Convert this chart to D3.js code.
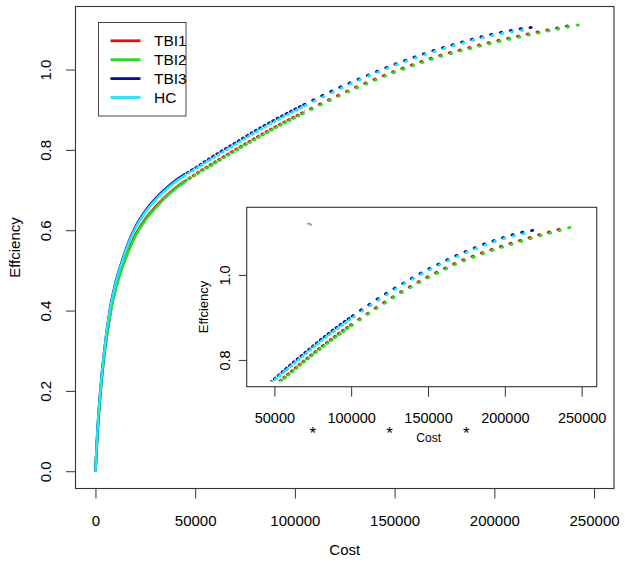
<!DOCTYPE html>
<html>
<head>
<meta charset="utf-8">
<script src="https://cdn.jsdelivr.net/npm/d3@7"></script>
<style>
  body { margin: 0; background: #fff; }
  text { font-family: "Liberation Sans", Arial, sans-serif; fill: #000; }
</style>
</head>
<body>
<div id="chart"></div>
<script>
// series names and colours
var seriesNames = ["TBI1", "TBI2", "TBI3", "HC"];
var seriesColors = ["#e01010", "#22dd22", "#0c0c9c", "#22e6f0"];

// cost / efficiency, one pair of arrays per series
var costTBI1 = [0, 500, 1000, 2000, 3000, 4500, 6000, 8000, 10000, 13000, 16000, 20000, 25000, 30000, 40000, 50000,
  60000, 70000, 80000, 90000, 100000, 110000, 120000, 130000, 140000, 150000, 160000, 170000, 180000, 190000,
  200000, 210000, 220000, 230000, 240000];
var effTBI1 = [0, 0.047, 0.093, 0.163, 0.223, 0.293, 0.348, 0.408, 0.453, 0.503, 0.543, 0.588, 0.628, 0.658, 0.705, 0.739,
  0.770, 0.800, 0.829, 0.857, 0.883, 0.908, 0.932, 0.955, 0.976, 0.996, 1.014, 1.031, 1.045, 1.058,
  1.070, 1.081, 1.092, 1.102, 1.112];

var costTBI2 = [0, 500, 1000, 2000, 3000, 4500, 6000, 8000, 10000, 13000, 16000, 20000, 25000, 30000, 40000, 50000,
  60000, 70000, 80000, 90000, 100000, 110000, 120000, 130000, 140000, 150000, 160000, 170000, 180000, 190000,
  200000, 210000, 220000, 230000, 240000, 246000];
var effTBI2 = [0, 0.045, 0.09, 0.16, 0.22, 0.29, 0.345, 0.405, 0.45, 0.50, 0.54, 0.585, 0.625, 0.655, 0.703, 0.737,
  0.767, 0.797, 0.826, 0.854, 0.880, 0.905, 0.929, 0.952, 0.973, 0.993, 1.011, 1.028, 1.042, 1.055,
  1.067, 1.078, 1.089, 1.099, 1.109, 1.116];

var costTBI3 = [0, 500, 1000, 2000, 3000, 4500, 6000, 8000, 10000, 13000, 16000, 20000, 25000, 30000, 40000, 50000,
  60000, 70000, 80000, 90000, 100000, 110000, 120000, 130000, 140000, 150000, 160000, 170000, 180000, 190000,
  200000, 210000, 222000];
var effTBI3 = [0, 0.05, 0.10, 0.172, 0.232, 0.302, 0.362, 0.423, 0.468, 0.518, 0.563, 0.608, 0.648, 0.678, 0.723, 0.755,
  0.787, 0.817, 0.847, 0.875, 0.901, 0.926, 0.950, 0.972, 0.993, 1.013, 1.031, 1.048, 1.063, 1.077,
  1.089, 1.099, 1.107];

var costHC = [0, 500, 1000, 2000, 3000, 4500, 6000, 8000, 10000, 13000, 16000, 20000, 25000, 30000, 40000, 50000,
  60000, 70000, 80000, 90000, 100000, 110000, 120000, 130000, 140000, 150000, 160000, 170000, 180000, 190000,
  200000, 210000, 218000];
var effHC = [0, 0.05, 0.10, 0.17, 0.23, 0.30, 0.36, 0.42, 0.465, 0.515, 0.56, 0.605, 0.645, 0.675, 0.72, 0.752,
  0.783, 0.813, 0.843, 0.871, 0.897, 0.922, 0.946, 0.969, 0.990, 1.010, 1.028, 1.045, 1.060, 1.074,
  1.086, 1.095, 1.100];

// axis ticks
var xTicks = [0, 50000, 100000, 150000, 200000, 250000];
var yTicks = [0, 0.2, 0.4, 0.6, 0.8, 1.0];
var insetXTicks = [50000, 100000, 150000, 200000, 250000];
var insetYTicks = [0.8, 1.0];
var insetStars = [75000, 125000, 175000];

var costs = [costTBI1, costTBI2, costTBI3, costHC];
var effs = [effTBI1, effTBI2, effTBI3, effHC];
var series = seriesNames.map(function(name, i) {
  return {
    name: name,
    color: seriesColors[i],
    values: costs[i].map(function(c, j) { return {cost: c, eff: effs[i][j]}; })
  };
});

var W = 625, H = 564;
var margin = {top: 6.5, right: 11, bottom: 75.5, left: 75.5},
    width = W - margin.left - margin.right,
    height = H - margin.top - margin.bottom;

var svg = d3.select("#chart")
  .append("svg")
    .attr("width", W)
    .attr("height", H);

var defs = svg.append("defs");

var g = svg.append("g")
    .attr("transform", "translate(" + margin.left + "," + margin.top + ")");

var x = d3.scaleLinear().domain([-10000, 260000]).range([0, width]);
var y = d3.scaleLinear().domain([-0.043, 1.157]).range([height, 0]);

// X axis
var xAxis = g.append("g")
    .attr("transform", "translate(0," + height + ")")
    .call(d3.axisBottom(x).tickValues(xTicks).tickSize(10).tickFormat(d3.format("d")));
xAxis.select(".domain").remove();
xAxis.selectAll("line").attr("stroke", "#333");
xAxis.selectAll("text")
    .attr("y", 37.5).attr("dy", 0)
    .style("font-size", "15px")
    .style("font-family", "Liberation Sans, Arial, sans-serif");

// Y axis, labels turned like R's
var yAxis = g.append("g")
    .call(d3.axisLeft(y).tickValues(yTicks).tickSize(9.5).tickFormat(d3.format(".1f")));
yAxis.select(".domain").remove();
yAxis.selectAll("line").attr("stroke", "#333");
yAxis.selectAll("text")
    .attr("x", 0).attr("dy", 0)
    .attr("text-anchor", "middle")
    .attr("transform", "translate(-24.5,0) rotate(-90)")
    .style("font-size", "15px")
    .style("font-family", "Liberation Sans, Arial, sans-serif");

g.append("text")
    .attr("text-anchor", "middle")
    .attr("x", width / 2)
    .attr("y", height + 66)
    .style("font-size", "15px")
    .text("Cost");

g.append("text")
    .attr("text-anchor", "middle")
    .attr("transform", "translate(" + (-55.5) + "," + (height / 2) + ") rotate(-90)")
    .style("font-size", "15px")
    .text("Effciency");

// curves
var line = d3.line()
    .x(function(d) { return x(d.cost); })
    .y(function(d) { return y(d.eff); })
    .curve(d3.curveMonotoneX);

// clip regions: solid near origin, denser dots in the middle
function clipBand(id, xs, x0, x1, h) {
  defs.append("clipPath").attr("id", id)
    .append("rect")
      .attr("x", xs(x0)).attr("y", -20)
      .attr("width", xs(x1) - xs(x0)).attr("height", h + 40);
}
clipBand("lowPart", x, -10000, 45000, height);
clipBand("midPart", x, 45000, 105000, height);
clipBand("highPart", x, 45000, 260000, height);

function drawSeries(parent, lineGen, clipLow, clipMid, clipHigh) {
  if (clipLow) {
    parent.append("g").attr("clip-path", "url(#" + clipLow + ")")
      .selectAll("path")
      .data(series)
      .enter()
      .append("path")
        .attr("d", function(d) { return lineGen(d.values); })
        .attr("fill", "none")
        .attr("stroke", function(d) { return d.color; })
        .attr("stroke-width", 2.6);
  }
  [0, 5].forEach(function(off) {
    parent.append("g").attr("clip-path", "url(#" + (off ? clipMid : clipHigh) + ")")
      .selectAll("path")
      .data(series)
      .enter()
      .append("path")
        .attr("d", function(d) { return lineGen(d.values); })
        .attr("fill", "none")
        .attr("stroke", function(d) { return d.color; })
        .attr("stroke-width", 2.8)
        .attr("stroke-linecap", "round")
        .attr("stroke-dasharray", "1.3,8.7")
        .attr("stroke-dashoffset", off);
  });
}
drawSeries(g, line, "lowPart", "midPart", "highPart");

// box
g.append("rect")
    .attr("width", width)
    .attr("height", height)
    .attr("fill", "none")
    .attr("stroke", "#333")
    .attr("stroke-width", 1.1);

// legend
var legend = g.append("g").attr("transform", "translate(23,16)");
legend.append("rect")
    .attr("width", 87.5).attr("height", 93.5)
    .attr("fill", "#fff").attr("stroke", "#444").attr("stroke-width", 1);
var item = legend.selectAll(".item")
  .data(series)
  .enter()
  .append("g")
    .attr("transform", function(d, i) { return "translate(0," + (18.3 + i * 18.9) + ")"; });
item.append("line")
    .attr("x1", 12).attr("x2", 42)
    .attr("stroke", function(d) { return d.color; })
    .attr("stroke-width", 2.8);
item.append("text")
    .attr("x", 55.5).attr("y", 0)
    .attr("dy", "0.36em")
    .style("font-size", "15.5px")
    .text(function(d) { return d.name; });

// inset
var inset = {left: 246.7, top: 207.3, width: 350, height: 179.4};
var ig = svg.append("g")
    .attr("transform", "translate(" + inset.left + "," + inset.top + ")");

var ix = d3.scaleLinear().domain([32000, 259800]).range([0, inset.width]);
var iy = d3.scaleLinear().domain([0.737, 1.159]).range([inset.height, 0]);

ig.append("rect")
    .attr("width", inset.width).attr("height", inset.height)
    .attr("fill", "#fff");

var iline = d3.line()
    .x(function(d) { return ix(d.cost); })
    .y(function(d) { return iy(d.eff); })
    .curve(d3.curveMonotoneX);

// inset curves only above efficiency 0.75
function insetClip(id, c0, c1) {
  defs.append("clipPath").attr("id", id)
    .append("rect")
      .attr("x", ix(c0)).attr("y", 0)
      .attr("width", ix(c1) - ix(c0)).attr("height", iy(0.75));
}
insetClip("insetMid", 32000, 100000);
insetClip("insetAll", 32000, 259800);
drawSeries(ig, iline, null, "insetMid", "insetAll");

// small stray mark in the inset
ig.append("path")
    .attr("d", "M" + (ix(72500) - 2) + "," + iy(1.12) + "h4v2")
    .attr("fill", "none")
    .attr("stroke", "#333")
    .attr("stroke-width", 0.8);

ig.append("rect")
    .attr("width", inset.width).attr("height", inset.height)
    .attr("fill", "none")
    .attr("stroke", "#333")
    .attr("stroke-width", 1.1);

var ixAxis = ig.append("g")
    .attr("transform", "translate(0," + inset.height + ")")
    .call(d3.axisBottom(ix).tickValues(insetXTicks).tickSize(10).tickFormat(d3.format("d")));
ixAxis.select(".domain").remove();
ixAxis.selectAll("line").attr("stroke", "#333");
ixAxis.selectAll("text")
    .attr("y", 36.6).attr("dy", 0)
    .style("font-size", "14.5px")
    .style("font-family", "Liberation Sans, Arial, sans-serif");

var iyAxis = ig.append("g")
    .call(d3.axisLeft(iy).tickValues(insetYTicks).tickSize(8).tickFormat(d3.format(".1f")));
iyAxis.select(".domain").remove();
iyAxis.selectAll("line").attr("stroke", "#333");
iyAxis.selectAll("text")
    .attr("x", 0).attr("dy", 0)
    .attr("text-anchor", "middle")
    .attr("transform", "translate(-17,0) rotate(-90)")
    .style("font-size", "14.5px")
    .style("font-family", "Liberation Sans, Arial, sans-serif");

ig.selectAll(".star")
  .data(insetStars)
  .enter()
  .append("text")
    .attr("class", "star")
    .attr("x", function(d) { return ix(d); })
    .attr("y", inset.height + 52)
    .attr("text-anchor", "middle")
    .style("font-size", "17px")
    .text("*");

ig.append("text")
    .attr("x", inset.width / 2 + 7)
    .attr("y", inset.height + 55)
    .attr("text-anchor", "middle")
    .style("font-size", "12px")
    .text("Cost");

ig.append("text")
    .attr("text-anchor", "middle")
    .attr("transform", "translate(-38.5," + (inset.height / 2 + 10) + ") rotate(-90)")
    .style("font-size", "13px")
    .text("Effciency");
</script>
</body>
</html>
